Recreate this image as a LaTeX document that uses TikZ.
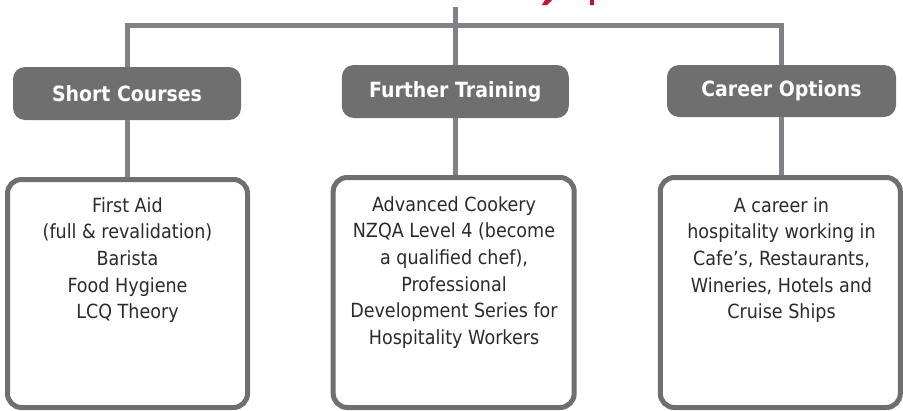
\documentclass[tikz,border=0pt]{standalone}
\usepackage{fontspec}
\setmainfont{DejaVu Sans}[FakeStretch=0.9]
\definecolor{hdrgray}{HTML}{6F6F6F}
\definecolor{linegray}{HTML}{808285}
\definecolor{txtgray}{HTML}{2B2B2B}
\definecolor{ttlred}{HTML}{C8102E}
\begin{document}
\begin{tikzpicture}[x=1pt,y=-1pt,
  connector/.style={draw=linegray,line width=5pt},
  header/.style={fill=hdrgray,rounded corners=12pt,text=white,inner sep=0pt,
    font=\fontsize{21}{25}\selectfont\bfseries},
  panel/.style={draw=hdrgray,line width=5pt,fill=white,rounded corners=14pt,inner sep=0pt},
  body/.style={anchor=north,align=center,text=txtgray,inner sep=0pt,
    font=\fontsize{19.5}{26.7}\selectfont}]
\useasboundingbox (0,0) rectangle (903,410);

% red title fragments (cut off at top)
\fill[ttlred] (545,0) -- (552,0) -- (547,5) -- (542,5) -- cycle;
\fill[ttlred] (590,0) rectangle (594,5);

% headers
\node[header,minimum width=228pt,minimum height=53pt] (sc) at (127,93.5) {Short Courses};
\node[header,minimum width=227pt,minimum height=53pt] (ft) at (455.3,91.5) {Further Training};
\node[header,minimum width=229pt,minimum height=52pt] (co) at (781.5,91) {Career Options};

% panels
\node[panel,minimum width=240pt,minimum height=228pt] (scb) at (127.5,293.5) {};
\node[panel,minimum width=241pt,minimum height=230pt] (ftb) at (453.7,292.5) {};
\node[panel,minimum width=240pt,minimum height=230pt] (cob) at (780.3,292.5) {};

% panel texts
\node[body] (sct) at (127.5,197) {First Aid\\(full \& revalidation)\\Barista\\Food Hygiene\\LCQ Theory};
\node[body] (ftt) at (454,196) {Advanced Cookery\\NZQA Level 4 (become\\a qualified chef),\\Professional\\Development Series for\\Hospitality Workers};
\node[body] (cot) at (781.5,197) {A career in\\hospitality working in\\Cafe’s, Restaurants,\\Wineries, Hotels and\\Cruise Ships};

% connectors
\coordinate (top) at (455.3,7);
\coordinate (hub) at (455.3,25);
\draw[connector] (top) -- (ft.north);
\draw[connector] (sc.north) |- (hub) -| (co.north);
\draw[connector] (sc.south) -- (sc.south |- scb.north);
\draw[connector] (ft.south) -- (ft.south |- ftb.north);
\draw[connector] (co.south) -- (co.south |- cob.north);
\end{tikzpicture}
\end{document}
